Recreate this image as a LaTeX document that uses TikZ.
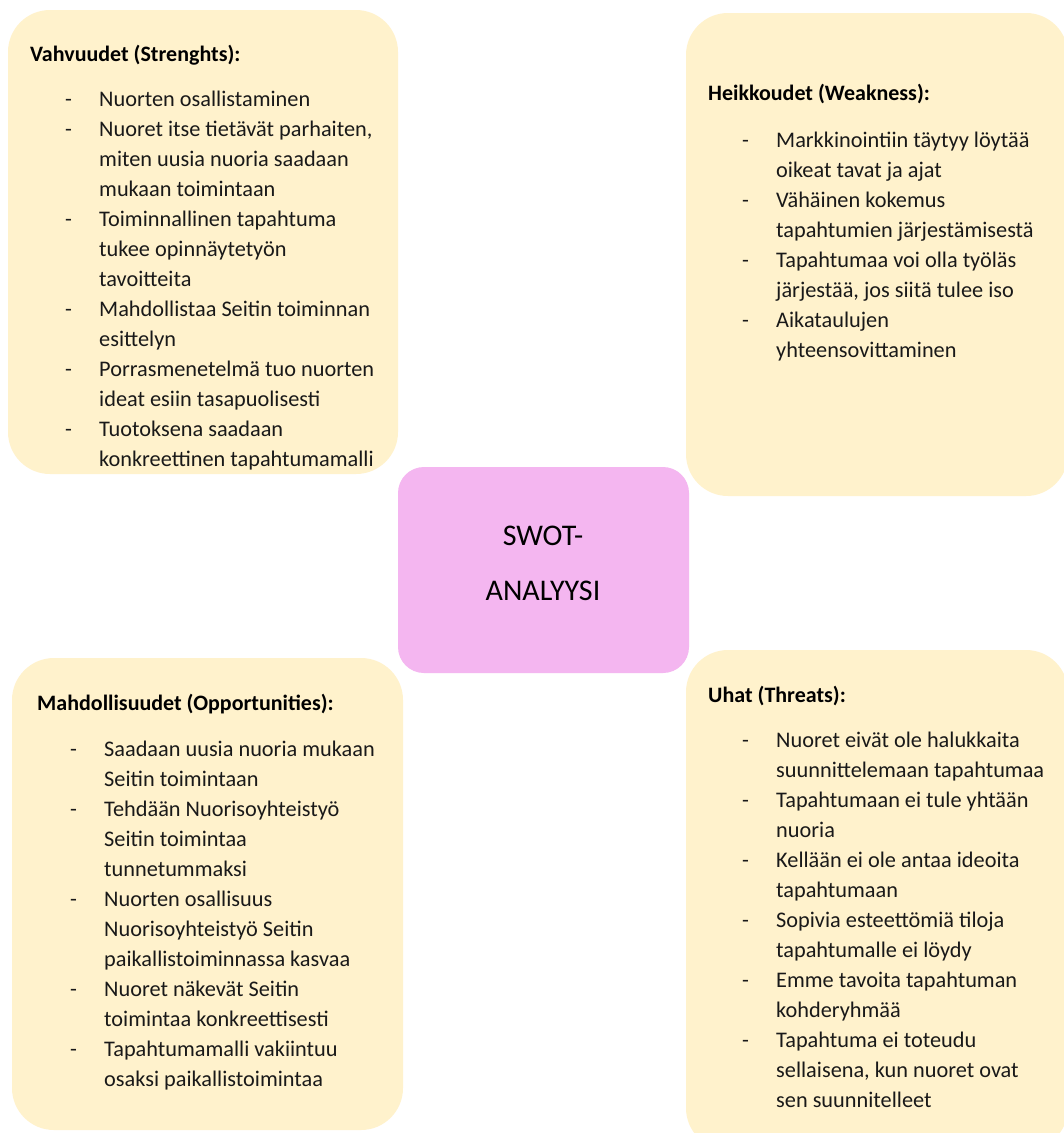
\documentclass[tikz,border=0pt]{standalone}
\usepackage{fontspec}
\setmainfont{Carlito}
\definecolor{boxyellow}{RGB}{255,242,204}
\definecolor{boxpink}{RGB}{244,182,240}
\definecolor{txt}{RGB}{25,25,25}
\newcommand{\dashitem}{\makebox[34pt][l]{-}}
\newcommand{\contline}{\hspace*{34pt}}
\tikzset{
  swotbox/.style={fill=boxyellow, draw=none, rounded corners=42pt},
  centerbox/.style={fill=boxpink, draw=none, rounded corners=26pt},
  heading/.style={anchor=base west, inner sep=0pt, text=black, font=\fontsize{22}{30}\selectfont\bfseries},
  itemlist/.style={anchor=base west, inner sep=0pt, align=left, text=txt, font=\fontsize{22.3}{30}\selectfont},
  centertext/.style={anchor=base, inner sep=0pt, text=black, font=\fontsize{30}{30}\selectfont}
}
\begin{document}
\begin{tikzpicture}[x=1pt,y=-1pt]
\useasboundingbox (0,0) rectangle (1064,1133);
\fill[white] (0,0) rectangle (1064,1133);
% boxes
\fill[swotbox] (8,10) rectangle (398,474);
\fill[swotbox] (686,13) rectangle (1068,496);
\fill[swotbox] (12,658) rectangle (403,1130);
\fill[swotbox] (686,650) rectangle (1068,1150);
\fill[centerbox] (398,467) rectangle (689,673);
% center
\node[centertext] (c1) at (543,545) {SWOT-};
\node[centertext] (c2) at (543,600) {ANALYYSI};
% Strengths (anchor = last line baseline)
\node[heading] (sh) at (30,61) {Vahvuudet (Strenghts):};
\node[itemlist] (sl) at (65,466) {\dashitem Nuorten osallistaminen\\
\dashitem Nuoret itse tietävät parhaiten,\\
\contline miten uusia nuoria saadaan\\
\contline mukaan toimintaan\\
\dashitem Toiminnallinen tapahtuma\\
\contline tukee opinnäytetyön\\
\contline tavoitteita\\
\dashitem Mahdollistaa Seitin toiminnan\\
\contline esittelyn\\
\dashitem Porrasmenetelmä tuo nuorten\\
\contline ideat esiin tasapuolisesti\\
\dashitem Tuotoksena saadaan\\
\contline konkreettinen tapahtumamalli};
% Weaknesses
\node[heading] (wh) at (708,100) {Heikkoudet (Weakness):};
\node[itemlist] (wl) at (742,357) {\dashitem Markkinointiin täytyy löytää\\
\contline oikeat tavat ja ajat\\
\dashitem Vähäinen kokemus\\
\contline tapahtumien järjestämisestä\\
\dashitem Tapahtumaa voi olla työläs\\
\contline järjestää, jos siitä tulee iso\\
\dashitem Aikataulujen\\
\contline yhteensovittaminen};
% Opportunities
\node[heading] (oh) at (37,710) {Mahdollisuudet (Opportunities):};
\node[itemlist] (ol) at (70,1086) {\dashitem Saadaan uusia nuoria mukaan\\
\contline Seitin toimintaan\\
\dashitem Tehdään Nuorisoyhteistyö\\
\contline Seitin toimintaa\\
\contline tunnetummaksi\\
\dashitem Nuorten osallisuus\\
\contline Nuorisoyhteistyö Seitin\\
\contline paikallistoiminnassa kasvaa\\
\dashitem Nuoret näkevät Seitin\\
\contline toimintaa konkreettisesti\\
\dashitem Tapahtumamalli vakiintuu\\
\contline osaksi paikallistoimintaa};
% Threats
\node[heading] (th) at (708,702) {Uhat (Threats):};
\node[itemlist] (tl) at (742,1107) {\dashitem Nuoret eivät ole halukkaita\\
\contline suunnittelemaan tapahtumaa\\
\dashitem Tapahtumaan ei tule yhtään\\
\contline nuoria\\
\dashitem Kellään ei ole antaa ideoita\\
\contline tapahtumaan\\
\dashitem Sopivia esteettömiä tiloja\\
\contline tapahtumalle ei löydy\\
\dashitem Emme tavoita tapahtuman\\
\contline kohderyhmää\\
\dashitem Tapahtuma ei toteudu\\
\contline sellaisena, kun nuoret ovat\\
\contline sen suunnitelleet};
\end{tikzpicture}
\end{document}
